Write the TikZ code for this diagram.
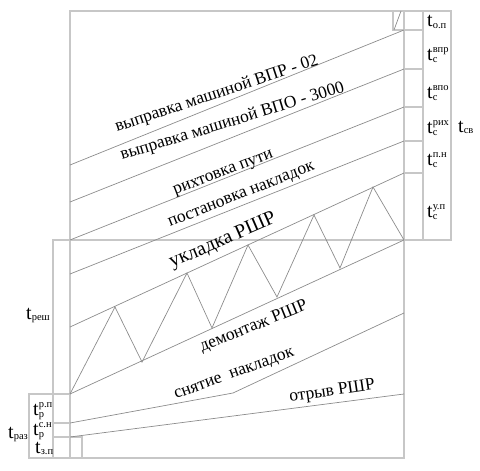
\documentclass[tikz,border=0pt]{standalone}
\usepackage{fontspec}
\setmainfont{Liberation Serif}
\usetikzlibrary{calc}
\tikzset{
  fr/.style={draw=black!22,line width=1.3pt},
  op/.style={draw=black!45,line width=0.7pt},
  tx/.style={inner sep=0pt,anchor=base west,font=\fontsize{17.4}{20}\selectfont},
  tl/.style={inner sep=0pt,anchor=base west,font=\fontsize{20}{24}\selectfont},
}
\newcommand{\sm}[1]{{\fontsize{10.5}{12}\selectfont #1}}
\newcommand{\tlab}[2]{t\rlap{\raisebox{8pt}{\sm{#2}}}\raisebox{-2pt}{\sm{#1}}}
\newcommand{\tsub}[1]{t\raisebox{-1.5pt}{\sm{#1}}}

\begin{document}
\begin{tikzpicture}[x=1pt,y=-1pt]
\useasboundingbox (0,0) rectangle (480,471);
\draw[fr] (70,458)--(70,11)--(451,11)--(451,240)--(53,240)--(53,458)--(404,458)--(404,11);
\draw[fr] (423,11)--(423,240);
\foreach \y in {30,69,107,141,173} \draw[fr] (404,\y)--(423,\y);
\draw[fr] (393,11) rectangle (404,30);
\draw[fr] (29,394) rectangle (53,458); \draw[fr] (53,394)--(70,394);
\draw[fr] (53,423)--(70,423); \draw[fr] (53,437)--(82,437)--(82,458);
\foreach \a/\b in {165/30,202/69,240/107,274/141,327/173,394/240} \draw[op] (70,\a)--(404,\b);
\draw[op] (70,394)--(115,307)--(142,362)--(187,273)--(212,328)--(248,245)--(277,297)--(314,215)--(340,268)--(373,187)--(404,240);
\draw[op] (70,423)--(233,393)--(404,313); \draw[op] (70,437)--(404,394);
\draw[op] (394,30)--(401,11);
\node[tx,rotate=18.5] (vpr) at (117,132){выправка машиной ВПР - 02};
\node[tx,rotate=17] (vpo) at (122,160){выправка машиной ВПО - 3000};
\node[tx,rotate=21] (rih) at (175,195){рихтовка пути};
\node[tx,rotate=21.6] (pn) at (170,227){постановка накладок};
\node[tx,rotate=23.5,font=\fontsize{20}{24}\selectfont] (up) at (172,268){укладка РШР};
\node[tx,rotate=22] (dem) at (202,352){демонтаж РШР};
\node[tx,rotate=20] (sn) at (176,399){снятие\ \ накладок};
\node[tx,rotate=8.5] (otr) at (290,402){отрыв РШР};
\node[tl] (top) at (427,27){\tsub{о.п}};
\node[tl] (tvpr) at (427,60){\tlab{с}{впр}};
\node[tl] (tvpo) at (427,98){\tlab{с}{впо}};
\node[tl] (trih) at (427,133){\tlab{с}{рих}};
\node[tl] (tpn) at (427,165){\tlab{с}{п.н}};
\node[tl] (tup) at (427,217){\tlab{с}{у.п}};
\node[tl] (tsv) at (458,132){\tsub{св}};
\node[tl] (tres) at (26,319){\tsub{реш}};
\node[tl] (traz) at (8,438){\tsub{раз}};
\node[tl] (trp) at (33,415){\tlab{р}{р.п}};
\node[tl] (tsn) at (33,435){\tlab{р}{с.н}};
\node[tl] (tzp) at (35,453){\tsub{з.п}};
\end{tikzpicture}
\end{document}
